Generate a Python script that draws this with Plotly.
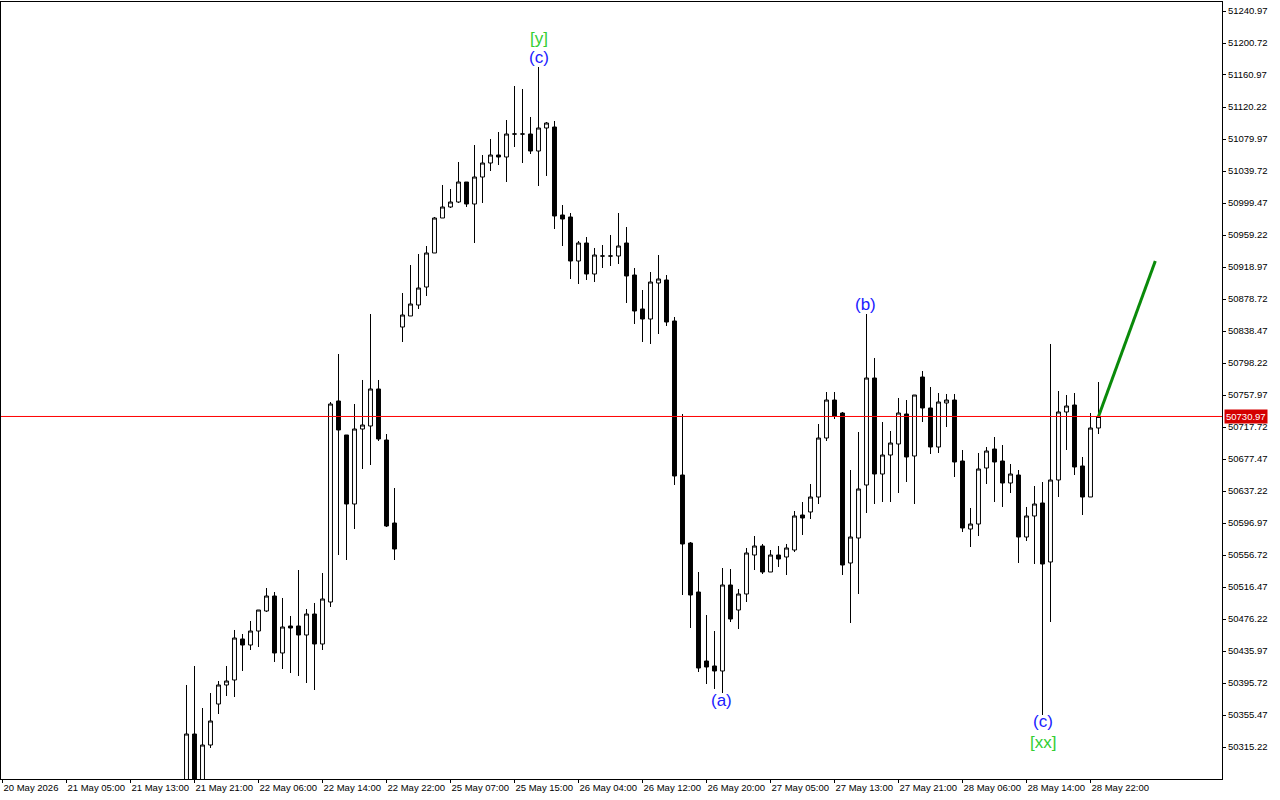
import plotly.graph_objects as go

# ---- data ----
opens = [
    50262.00, 50331.58, 50262.00, 50317.75, 50369.32, 50393.22, 50399.51, 50451.08, 50443.53, 50461.14,
    50486.29, 50505.16, 50433.47, 50467.43, 50467.43, 50456.11, 50482.52, 50444.79, 50497.61, 50750.43,
    50707.67, 50620.88, 50715.21, 50718.99, 50765.53, 50701.38, 50596.98, 50843.51, 50857.35, 50871.18,
    50893.82, 50936.59, 50980.61, 50994.45, 51000.73, 51025.89, 50998.22, 51032.18, 51049.79, 51059.85,
    51057.34, 51086.26, 51086.26, 51086.26, 51064.88, 51093.81, 51095.07, 50984.38, 50981.87, 50926.52,
    50949.16, 50910.17, 50932.81, 50932.81, 50932.81, 50949.16, 50908.91, 50866.15, 50853.57, 50898.85,
    50902.63, 50851.06, 50657.35, 50571.82, 50510.19, 50423.40, 50417.12, 50410.83, 50519.00, 50487.55,
    50507.68, 50556.73, 50568.05, 50535.35, 50556.73, 50554.22, 50563.02, 50607.04, 50610.82, 50629.68,
    50703.89, 50751.69, 50735.34, 50546.67, 50578.11, 50644.78, 50779.36, 50658.61, 50682.51, 50696.35,
    50734.08, 50681.25, 50780.62, 50741.63, 50692.57, 50747.92, 50751.69, 50674.96, 50589.43, 50595.72,
    50666.16, 50690.06, 50674.96, 50647.29, 50657.35, 50579.37, 50605.79, 50622.14, 50547.93, 50651.07,
    50736.60, 50745.40, 50668.68, 50629.68, 50716.47]
highs = [
    50393.22, 50417.12, 50364.29, 50383.15, 50398.25, 50417.12, 50462.40, 50457.36, 50473.72, 50487.55,
    50515.22, 50510.19, 50502.65, 50480.01, 50537.86, 50488.81, 50496.36, 50534.09, 50749.17, 50809.55,
    50707.67, 50746.66, 50776.85, 50859.86, 50776.85, 50708.92, 50641.00, 50886.27, 50921.49, 50935.33,
    50945.39, 50981.87, 51022.12, 51017.09, 51051.05, 51025.89, 51072.43, 51059.85, 51079.98, 51088.78,
    51103.87, 51146.64, 51142.87, 51107.65, 51170.54, 51101.36, 51102.62, 50996.96, 50986.90, 50951.68,
    50956.71, 50942.88, 50946.65, 50959.23, 50986.90, 50969.29, 50917.72, 50890.05, 50912.69, 50934.07,
    50908.91, 50856.09, 50734.08, 50573.08, 50535.35, 50481.26, 50461.14, 50540.38, 50539.12, 50513.97,
    50565.54, 50580.63, 50570.57, 50563.02, 50568.05, 50570.57, 50612.07, 50623.39, 50646.03, 50721.50,
    50761.75, 50761.75, 50736.60, 50663.64, 50711.44, 50859.86, 50804.52, 50724.02, 50712.70, 50754.21,
    50751.69, 50757.98, 50788.17, 50768.04, 50760.49, 50759.24, 50759.24, 50688.80, 50615.85, 50685.03,
    50692.57, 50705.15, 50695.09, 50671.19, 50663.64, 50617.11, 50643.52, 50648.55, 50822.13, 50763.01,
    50757.98, 50760.49, 50680.00, 50735.34, 50774.33]
lows = [
    50240.00, 50230.00, 50248.00, 50313.98, 50356.74, 50379.38, 50378.12, 50410.83, 50437.24, 50441.01,
    50485.04, 50422.15, 50413.34, 50408.31, 50404.54, 50395.73, 50386.93, 50437.24, 50491.33, 50556.73,
    50550.44, 50589.43, 50664.90, 50669.93, 50700.12, 50591.95, 50550.44, 50824.64, 50857.35, 50866.15,
    50882.50, 50936.59, 50980.61, 50993.19, 50999.48, 50994.45, 50949.16, 50999.48, 51039.73, 51047.27,
    51025.89, 51069.91, 51049.79, 51061.11, 51020.86, 51033.44, 50966.77, 50945.39, 50903.88, 50897.59,
    50902.63, 50900.11, 50917.72, 50920.24, 50922.75, 50873.70, 50847.28, 50824.64, 50822.13, 50834.70,
    50844.77, 50644.78, 50506.42, 50464.91, 50409.57, 50394.47, 50388.19, 50383.15, 50472.46, 50463.65,
    50497.61, 50537.86, 50532.83, 50535.35, 50541.64, 50531.57, 50560.50, 50581.89, 50602.01, 50620.88,
    50700.12, 50727.79, 50531.57, 50471.20, 50507.68, 50609.56, 50620.88, 50623.39, 50623.39, 50634.71,
    50648.55, 50620.88, 50724.02, 50683.77, 50685.03, 50717.73, 50654.84, 50585.66, 50566.79, 50580.63,
    50646.03, 50623.39, 50617.11, 50634.71, 50546.67, 50574.34, 50545.41, 50355.48, 50472.46, 50629.68,
    50688.80, 50657.35, 50607.04, 50629.68, 50708.92]
closes = [
    50331.58, 50255.00, 50317.75, 50347.94, 50393.22, 50398.25, 50452.33, 50443.53, 50461.14, 50487.55,
    50505.16, 50433.47, 50466.17, 50464.91, 50456.11, 50482.52, 50444.79, 50501.39, 50746.66, 50713.96,
    50620.88, 50715.21, 50720.24, 50765.53, 50702.64, 50593.21, 50564.28, 50858.60, 50872.44, 50892.56,
    50936.59, 50980.61, 50994.45, 51000.73, 51025.89, 50998.22, 51032.18, 51049.79, 51059.85, 51057.34,
    51086.26, 51086.26, 51086.26, 51064.88, 51093.81, 51100.10, 50983.13, 50979.35, 50926.52, 50949.16,
    50910.17, 50934.07, 50932.81, 50932.81, 50945.39, 50907.66, 50863.63, 50853.57, 50900.11, 50903.88,
    50849.80, 50656.10, 50570.57, 50506.42, 50414.60, 50415.86, 50410.83, 50519.00, 50476.23, 50507.68,
    50559.25, 50568.05, 50535.35, 50556.73, 50551.70, 50565.54, 50605.79, 50603.27, 50629.68, 50703.89,
    50751.69, 50731.57, 50544.15, 50579.37, 50639.75, 50779.36, 50658.61, 50682.51, 50697.60, 50735.34,
    50680.00, 50757.98, 50741.63, 50692.57, 50749.17, 50751.69, 50673.71, 50590.69, 50595.72, 50664.90,
    50687.54, 50673.71, 50647.29, 50658.61, 50579.37, 50605.79, 50620.88, 50545.41, 50651.07, 50736.60,
    50744.14, 50667.42, 50629.68, 50716.47, 50730.97]

first_bar = 23  # index of first visible bar (bar 0 is the left edge of the time axis)

time_labels = ["20 May 2026", "21 May 05:00", "21 May 13:00", "21 May 21:00", "22 May 06:00",
               "22 May 14:00", "22 May 22:00", "25 May 07:00", "25 May 15:00", "26 May 04:00",
               "26 May 12:00", "26 May 20:00", "27 May 05:00", "27 May 13:00", "27 May 21:00",
               "28 May 06:00", "28 May 14:00", "28 May 22:00"]
time_label_bars = list(range(0, 8 * len(time_labels), 8))

price_ticks = [51240.97, 51200.72, 51160.97, 51120.22, 51079.97, 51039.72, 50999.47, 50959.22,
               50918.97, 50878.72, 50838.47, 50798.22, 50757.97, 50717.72, 50677.47, 50637.22,
               50596.97, 50556.72, 50516.47, 50476.22, 50435.97, 50395.72, 50355.47, 50315.22]
price_tick_text = [f"{v:.2f}" for v in price_ticks]

current_price = 50730.97
projection_bars = [137, 144.1]
projection_prices = [50730.97, 50926.52]

wave_labels = [
    {"text": "[y]", "bar": 67, "price": 51207.0, "color": "#32CD32"},
    {"text": "(c)", "bar": 67, "price": 51181.9, "color": "#2020ff"},
    {"text": "(b)", "bar": 107.9, "price": 50871.2, "color": "#2020ff"},
    {"text": "(a)", "bar": 89.9, "price": 50373.1, "color": "#2020ff"},
    {"text": "(c)", "bar": 130, "price": 50346.7, "color": "#2020ff"},
    {"text": "[xx]", "bar": 130, "price": 50320.3, "color": "#32CD32"},
]

bars = list(range(first_bar, first_bar + len(opens)))

fig = go.Figure()
fig.add_trace(go.Candlestick(
    x=bars, open=opens, high=highs, low=lows, close=closes,
    increasing=dict(line=dict(color="black", width=1), fillcolor="white"),
    decreasing=dict(line=dict(color="black", width=1), fillcolor="black"),
    whiskerwidth=0, hoverinfo="skip", showlegend=False))

# projection line
fig.add_trace(go.Scatter(x=projection_bars, y=projection_prices, mode="lines",
                         line=dict(color="#0a8a0a", width=3), hoverinfo="skip", showlegend=False))

# current price line
fig.add_shape(type="line", xref="paper", x0=0, x1=1, yref="y", y0=current_price, y1=current_price,
              line=dict(color="#ff0000", width=1), layer="above")

fig.add_annotation(xref="paper", x=1, yref="y", y=current_price, text=f"{current_price:.2f}",
                   showarrow=False, xanchor="left", yanchor="middle", xshift=2,
                   bgcolor="#d40000", borderpad=1,
                   font=dict(family="Liberation Sans", size=9.5, color="white"))

for w in wave_labels:
    fig.add_annotation(x=w["bar"], y=w["price"], text=w["text"], showarrow=False,
                       font=dict(family="Liberation Sans", size=17, color=w["color"]),
                       xanchor="center", yanchor="middle")

fig.update_layout(
    width=1280, height=800,
    margin=dict(l=1, r=58, t=2, b=21, autoexpand=False),
    paper_bgcolor="white", plot_bgcolor="white",
    font=dict(family="Liberation Sans", size=9.5, color="black"),
    xaxis=dict(range=[-0.1875, 152.4375], tickvals=time_label_bars, ticktext=time_labels,
               tickangle=0, automargin=False,
               ticks="outside", ticklen=3, tickcolor="black", showgrid=False, zeroline=False,
               showline=True, linecolor="black", linewidth=1, mirror=True,
               rangeslider=dict(visible=False), ticklabelposition="outside right",
               tickfont=dict(family="Liberation Sans", size=9.5, color="black")),
    yaxis=dict(range=[50274.98, 51252.29], side="right", tickvals=price_ticks, ticktext=price_tick_text,
               automargin=False,
               ticks="outside", ticklen=3, tickcolor="black", showgrid=False, zeroline=False,
               showline=True, linecolor="black", linewidth=1, mirror=True,
               tickfont=dict(family="Liberation Sans", size=9.5, color="black")),
)

fig.write_html("out.html", config={"displayModeBar": False},
               post_script="document.body.style.margin='0';document.body.style.overflow='hidden';")
